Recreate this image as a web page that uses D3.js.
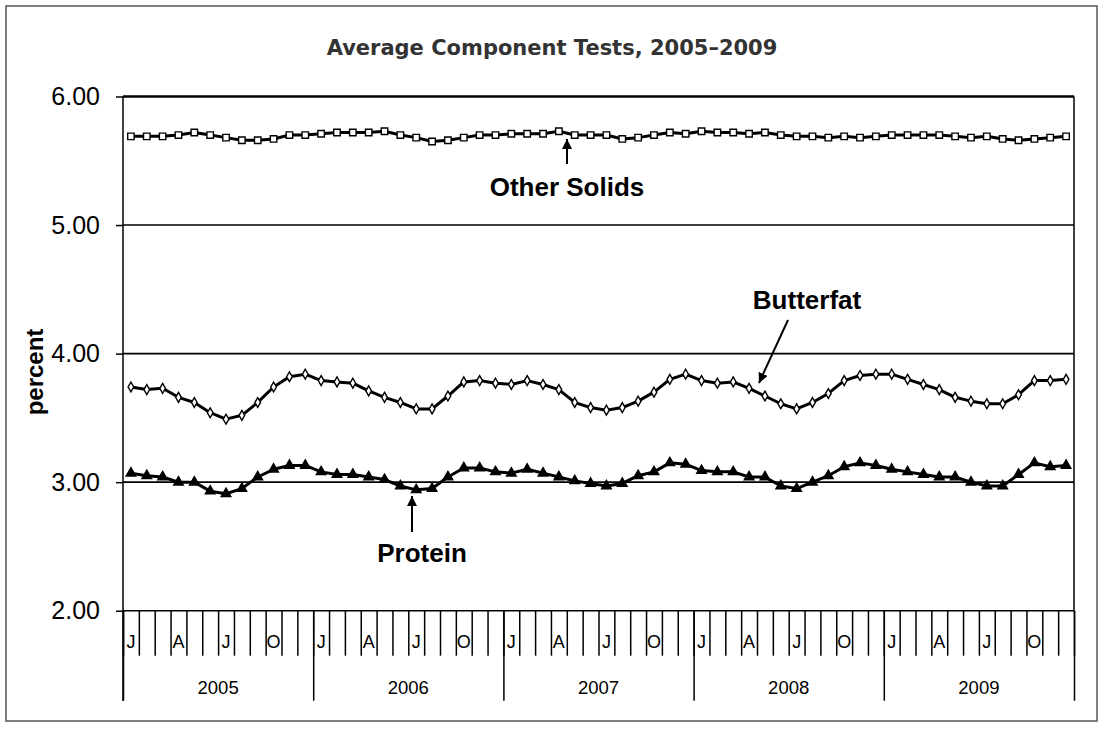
<!DOCTYPE html>
<html>
<head>
<meta charset="utf-8">
<script src="https://cdn.jsdelivr.net/npm/d3@7"></script>
<style>
  html, body { margin: 0; padding: 0; background: #fff; }
  svg { display: block; }
</style>
</head>
<body>
<svg id="chart" width="1105" height="729"></svg>
<script>
const years = ["2005", "2006", "2007", "2008", "2009"];
const monthLabels = ["J", "", "", "A", "", "", "J", "", "", "O", "", ""];
const yTicks = [2, 3, 4, 5, 6];

const otherSolids = [
  5.69, 5.69, 5.69, 5.70, 5.72, 5.70, 5.68, 5.66, 5.66, 5.67, 5.70, 5.70,
  5.71, 5.72, 5.72, 5.72, 5.73, 5.70, 5.68, 5.65, 5.66, 5.68, 5.70, 5.70,
  5.71, 5.71, 5.71, 5.73, 5.70, 5.70, 5.70, 5.67, 5.68, 5.70, 5.72, 5.71,
  5.73, 5.72, 5.72, 5.71, 5.72, 5.70, 5.69, 5.69, 5.68, 5.69, 5.68, 5.69,
  5.70, 5.70, 5.70, 5.70, 5.69, 5.68, 5.69, 5.67, 5.66, 5.67, 5.68, 5.69
];
const butterfat = [
  3.74, 3.72, 3.73, 3.66, 3.62, 3.54, 3.49, 3.52, 3.62, 3.74, 3.82, 3.84,
  3.79, 3.78, 3.77, 3.71, 3.66, 3.62, 3.57, 3.57, 3.67, 3.78, 3.79, 3.77,
  3.76, 3.79, 3.76, 3.72, 3.62, 3.58, 3.56, 3.58, 3.63, 3.70, 3.80, 3.84,
  3.79, 3.77, 3.78, 3.73, 3.67, 3.61, 3.57, 3.62, 3.69, 3.79, 3.83, 3.84,
  3.84, 3.80, 3.76, 3.72, 3.66, 3.63, 3.61, 3.61, 3.68, 3.79, 3.79, 3.80
];
const protein = [
  3.07, 3.05, 3.04, 3.00, 3.00, 2.93, 2.91, 2.95, 3.04, 3.10, 3.13, 3.13,
  3.08, 3.06, 3.06, 3.04, 3.02, 2.97, 2.94, 2.95, 3.04, 3.11, 3.11, 3.08,
  3.07, 3.10, 3.07, 3.04, 3.01, 2.99, 2.97, 2.99, 3.05, 3.08, 3.15, 3.14,
  3.09, 3.08, 3.08, 3.04, 3.04, 2.97, 2.95, 3.00, 3.05, 3.12, 3.15, 3.13,
  3.10, 3.08, 3.06, 3.04, 3.04, 3.00, 2.97, 2.97, 3.06, 3.15, 3.12, 3.13
];

const svg = d3.select("#chart");
const pLeft = 123, pRight = 1074, pTop = 96.5, pBottom = 610.7;
const n = otherSolids.length;

const xEdge = d3.scaleLinear().domain([0, n]).range([pLeft, pRight]);
const xMid = i => xEdge(i + 0.5);
const y = d3.scaleLinear().domain([2, 6]).range([pBottom, pTop]);

// outer border
svg.append("rect").attr("x", 6).attr("y", 6).attr("width", 1091).attr("height", 715)
  .attr("fill", "#fff").attr("stroke", "#555").attr("stroke-width", 1.5);

// title
svg.append("text").attr("x", 552).attr("y", 55).attr("text-anchor", "middle")
  .attr("font-family", "'DejaVu Sans', Verdana, sans-serif").attr("font-weight", "bold")
  .attr("font-size", 21).attr("fill", "#333")
  .text("Average Component Tests, 2005\u20132009");

// gridlines
svg.append("g").selectAll("line").data(yTicks).join("line")
  .attr("x1", pLeft).attr("x2", pRight)
  .attr("y1", d => y(d)).attr("y2", d => y(d))
  .attr("stroke", "#000").attr("stroke-width", d => d === 6 ? 2.5 : 1.6);

// right border
svg.append("line").attr("x1", pRight).attr("x2", pRight).attr("y1", pTop).attr("y2", pBottom)
  .attr("stroke", "#000").attr("stroke-width", 1.5);

// y axis
const yAxis = svg.append("g").attr("transform", `translate(${pLeft},0)`)
  .call(d3.axisLeft(y).tickValues(yTicks).tickFormat(d3.format(".2f")).tickSize(7).tickPadding(16));
yAxis.select(".domain").remove();
yAxis.selectAll(".tick line").attr("stroke", "#000").attr("stroke-width", 1.5);
yAxis.selectAll(".tick text").attr("font-family", "'Liberation Sans', Arial, sans-serif")
  .attr("font-size", 25).attr("fill", "#000");
svg.append("line").attr("x1", pLeft).attr("x2", pLeft).attr("y1", pTop).attr("y2", 701)
  .attr("stroke", "#000").attr("stroke-width", 1.5);

// y label
svg.append("text").attr("transform", "translate(43,372) rotate(-90)")
  .attr("text-anchor", "middle")
  .attr("font-family", "'Liberation Sans', Arial, sans-serif").attr("font-weight", "bold")
  .attr("font-size", 24).attr("fill", "#000").text("percent");

// x axis month ticks
const xm = svg.append("g").attr("transform", `translate(0,${pBottom})`)
  .call(d3.axisBottom(xEdge).tickValues(d3.range(0, n + 1)).tickSize(45).tickFormat(""));
xm.select(".domain").remove();
xm.selectAll(".tick line").attr("stroke", "#000").attr("stroke-width", 1.5);
// year ticks
const xy = svg.append("g").attr("transform", `translate(0,${pBottom})`)
  .call(d3.axisBottom(xEdge).tickValues(d3.range(0, n + 1, 12)).tickSize(90).tickFormat(""));
xy.select(".domain").remove();
xy.selectAll(".tick line").attr("stroke", "#000").attr("stroke-width", 1.5);

// month labels
const monthData = d3.range(n).map(i => ({ i, t: monthLabels[i % 12] })).filter(d => d.t);
svg.append("g").selectAll("text").data(monthData).join("text")
  .attr("x", d => xMid(d.i)).attr("y", 648).attr("text-anchor", "middle")
  .attr("font-family", "'Liberation Sans', Arial, sans-serif").attr("font-size", 18)
  .attr("fill", "#000").text(d => d.t);

// year labels
svg.append("g").selectAll("text").data(years).join("text")
  .attr("x", (d, k) => xEdge(k * 12 + 6)).attr("y", 694).attr("text-anchor", "middle")
  .attr("font-family", "'Liberation Sans', Arial, sans-serif").attr("font-size", 18.5)
  .attr("fill", "#000").text(d => d);

// series
const line = d3.line().x((d, i) => xMid(i)).y(d => y(d));
function drawSeries(data, symbolType, size, fill) {
  svg.append("path").datum(data).attr("d", line)
    .attr("fill", "none").attr("stroke", "#000").attr("stroke-width", 3).attr("stroke-linejoin", "round");
  const sym = d3.symbol().type(symbolType).size(size);
  svg.append("g").selectAll("path").data(data).join("path")
    .attr("transform", (d, i) => `translate(${xMid(i)},${y(d)})`)
    .attr("d", sym).attr("fill", fill).attr("stroke", "#000").attr("stroke-width", 1.4);
}
drawSeries(otherSolids, d3.symbolSquare, 42, "#fff");
drawSeries(butterfat, d3.symbolDiamond, 28, "#fff");
drawSeries(protein, d3.symbolTriangle, 40, "#000");

// annotations
const defs = svg.append("defs");
defs.append("marker").attr("id", "arrow").attr("viewBox", "0 0 10 10")
  .attr("refX", 10).attr("refY", 5).attr("markerWidth", 5).attr("markerHeight", 5)
  .attr("markerUnits", "strokeWidth").attr("orient", "auto")
  .append("path").attr("d", "M0,0 L10,5 L0,10 z").attr("fill", "#000");

function arrow(x1, y1, x2, y2) {
  svg.append("line").attr("x1", x1).attr("y1", y1).attr("x2", x2).attr("y2", y2)
    .attr("stroke", "#000").attr("stroke-width", 2).attr("marker-end", "url(#arrow)");
}
function label(x, yy, t) {
  svg.append("text").attr("x", x).attr("y", yy).attr("text-anchor", "middle")
    .attr("font-family", "'Liberation Sans', Arial, sans-serif").attr("font-weight", "bold")
    .attr("font-size", 26).attr("fill", "#000").text(t);
}
arrow(567, 164, 567, 139);
label(567, 196, "Other Solids");
arrow(788, 320, 759, 383);
label(807, 309, "Butterfat");
arrow(412, 532, 412, 496);
label(422, 562, "Protein");
</script>
</body>
</html>
